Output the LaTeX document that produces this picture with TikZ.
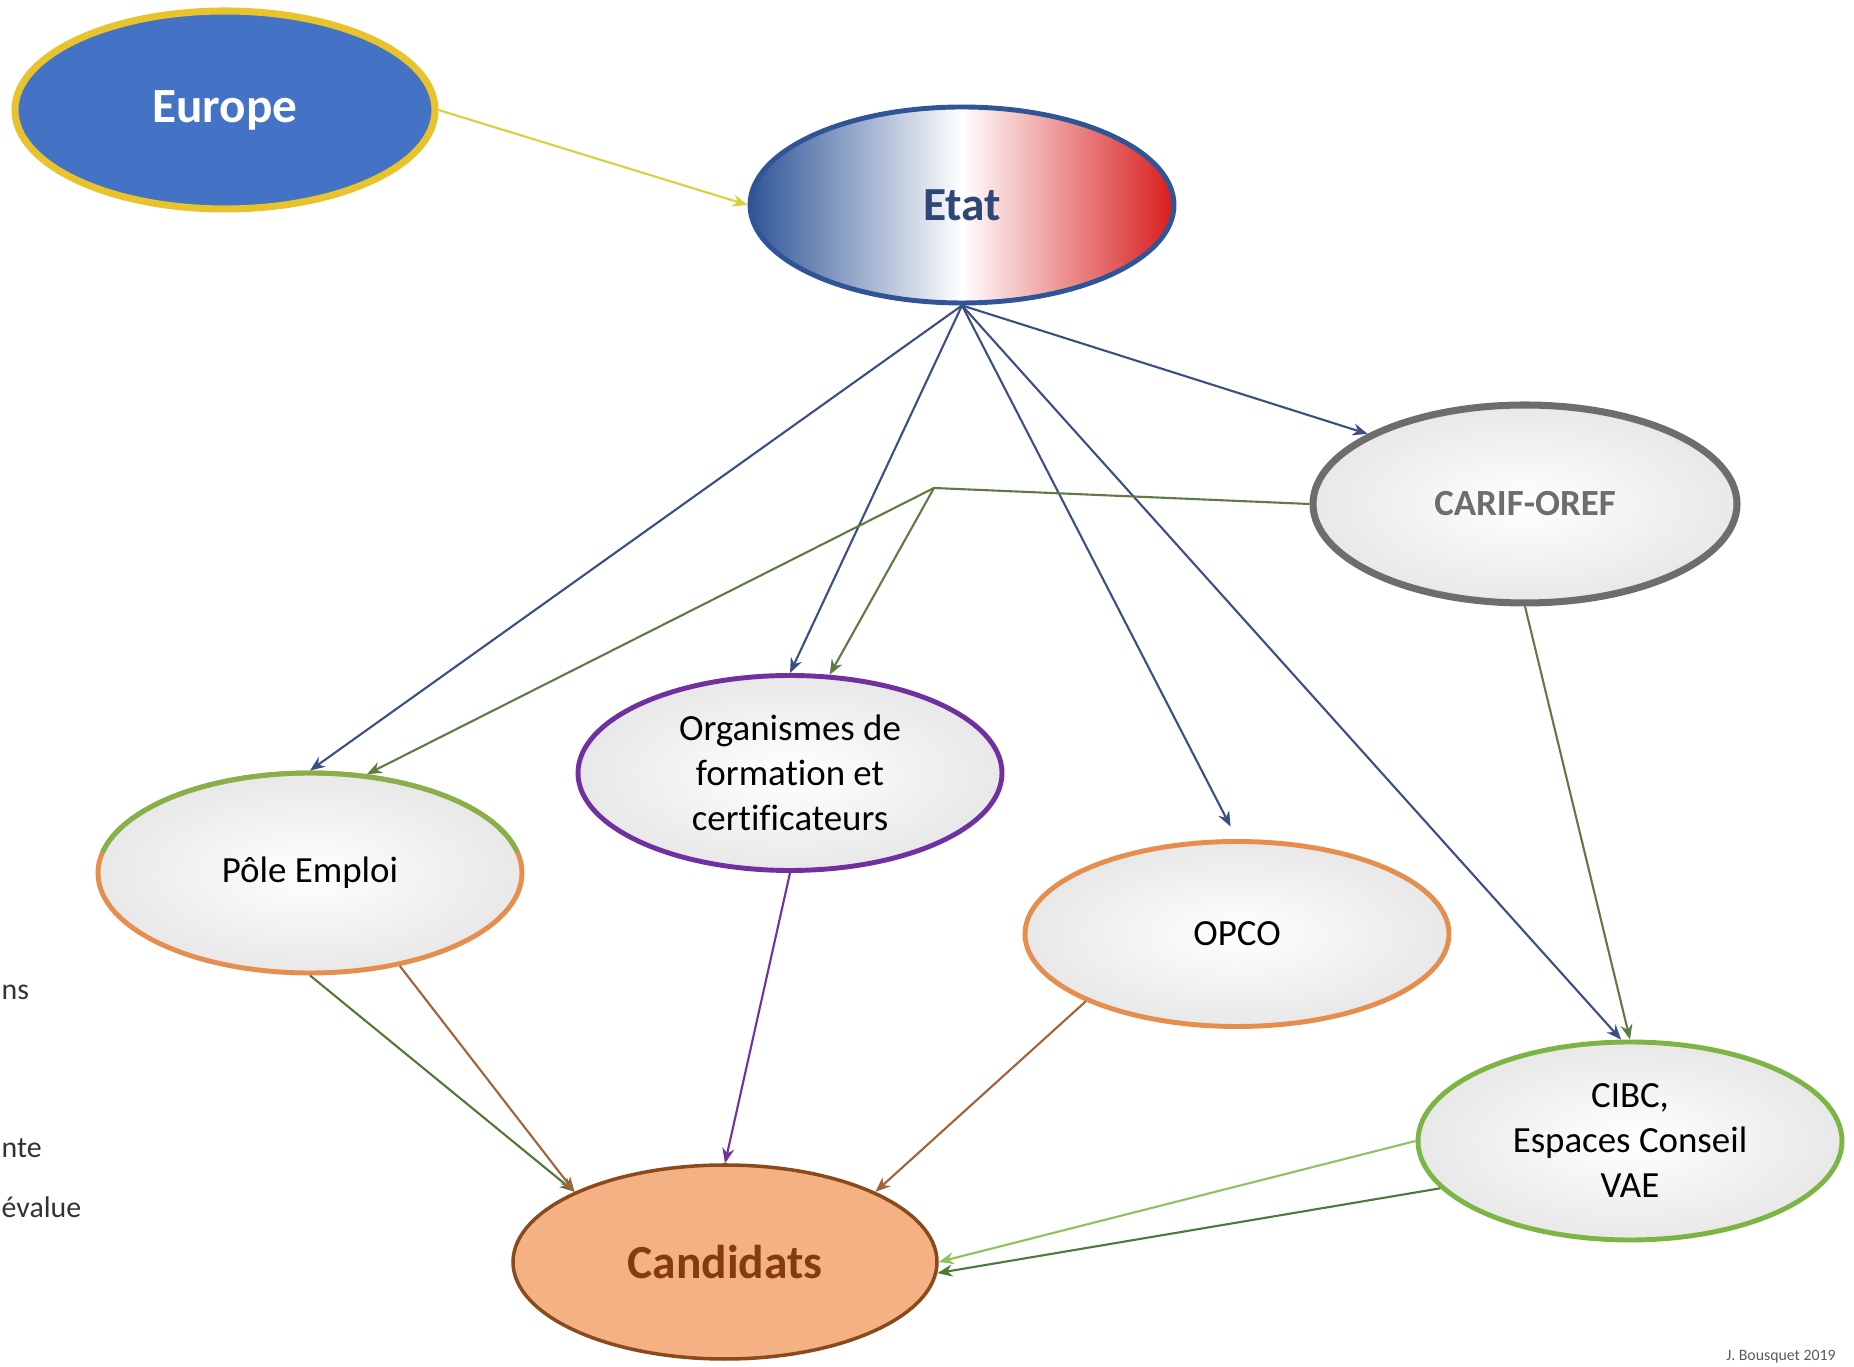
\documentclass[tikz,border=0pt]{standalone}
\usepackage{fontspec}
\setmainfont{Carlito}[Ligatures=NoCommon]
\usetikzlibrary{shapes.geometric,arrows.meta}

\definecolor{eurobleu}{HTML}{4472C4}
\definecolor{or}{HTML}{E9C32B}
\definecolor{frbleu}{HTML}{2F5597}
\definecolor{frrouge}{HTML}{D81C1C}
\definecolor{etattxt}{HTML}{2E4777}
\definecolor{marine}{HTML}{3A5082}
\definecolor{kaki}{HTML}{5E7A45}
\definecolor{saumon}{HTML}{F4B183}
\definecolor{brun}{HTML}{8B4A1C}
\definecolor{brunfonce}{HTML}{843C0C}
\definecolor{brunligne}{HTML}{A2623A}
\definecolor{pourpre}{HTML}{7030A0}
\definecolor{orange}{HTML}{E58E4E}
\definecolor{polevert}{HTML}{86B04A}
\definecolor{vert}{HTML}{7DB544}
\definecolor{vertclair}{HTML}{8FC25C}
\definecolor{vertfonce}{HTML}{4E7A36}
\definecolor{jaune}{HTML}{D6D23C}
\definecolor{gris}{HTML}{6D6D6D}
\definecolor{fond}{HTML}{E8E8E8}

\begin{document}
\begin{tikzpicture}[x=0.1mm, y=0.1mm, >={Stealth[length=1.5mm,width=1.2mm]},
  bulle/.style={ellipse, minimum width=42.4mm, minimum height=19.6mm, inner sep=0pt,
    line width=1.4pt, align=center, font=\fontsize{10.5}{12.8}\selectfont},
  pale/.style={inner color=white, outer color=fond},
  bout/.style={anchor=base west, inner sep=0pt, font=\fontsize{8.5}{10}\selectfont, text=black!80},
  lien/.style={->, line width=0.6pt}]
\useasboundingbox (0,0) rectangle (1854,1367);

% les noeuds
\node (europe) at (225,1257) [bulle, fill=eurobleu, draw=or, line width=2pt, text=white,
  font=\bfseries\fontsize{14}{16}\selectfont, minimum width=42mm, minimum height=19.8mm] {Europe};
\node (etat) at (962,1162) [bulle, left color=frbleu, right color=frrouge, middle color=white,
  draw=frbleu, text=etattxt, font=\bfseries\fontsize{13.5}{16}\selectfont] {Etat};
\node (carif) at (1525,863) [bulle, pale, draw=gris, line width=2pt, text=gris,
  font=\bfseries\fontsize{10.5}{12.8}\selectfont, minimum height=19.8mm] {CARIF-OREF};
\node (pole) at (310,494) [bulle, pale, draw=orange, minimum height=20mm] {Pôle Emploi};
\draw[polevert, line width=1.4pt] ([shift={(12:21.2mm and 10mm)}]pole.center)
  arc[start angle=12, end angle=168, x radius=21.2mm, y radius=10mm];
\node (orga) at (790,594) [bulle, pale, draw=pourpre, minimum height=19.5mm]
  {Organismes de\\formation et\\certificateurs};
\node (opco) at (1237,433) [bulle, pale, draw=orange, minimum height=18.5mm] {OPCO};
\node (cibc) at (1630,226) [bulle, pale, draw=vert, minimum height=19.8mm]
  {CIBC,\\Espaces Conseil\\VAE};
\node (cand) at (725,105) [bulle, fill=saumon, draw=brun, line width=1pt, text=brunfonce,
  font=\bfseries\fontsize{13.5}{16}\selectfont, minimum height=19.4mm] {Candidats};

% textes a gauche
\node (frag1) at (1,367) [bout] {ns};
\node (frag2) at (1,209) [bout] {nte};
\node (frag3) at (1,149) [bout] {évalue};
\node (signature) at (1781,10) [font=\fontsize{4.5}{5}\selectfont, text=black!65, inner sep=0pt] {J. Bousquet 2019};

% les liens
\draw[lien, jaune] (europe.east) -- (etat.west);
\draw[lien, marine] (etat.south) -- (pole.north);
\draw[lien, marine] (etat.south) -- (orga.north);
\draw[lien, marine, shorten >=1.4mm] (etat.south) -- (opco.north);
\draw[lien, marine] (etat.south) -- (carif.156);
\draw[lien, marine] (etat.south) -- (cibc.95);
\coordinate (relais) at (934,879);
\draw[lien, kaki] (carif.west) -- (relais) -- (pole.60);
\draw[lien, kaki] (relais) -- (orga.68);
\draw[lien, kaki] (carif.south) -- (cibc.north);
\draw[lien, vertfonce] (pole.south) -- (cand.155);
\draw[lien, brunligne] (pole.-46) -- (cand.155);
\draw[lien, pourpre] (orga.south) -- (cand.north);
\draw[lien, brunligne] (opco.204) -- (cand.25);
\draw[lien, vertclair] (cibc.west) -- (cand.east);
\draw[lien, vertfonce] (cibc.194) -- (cand.-3);
\end{tikzpicture}
\end{document}
